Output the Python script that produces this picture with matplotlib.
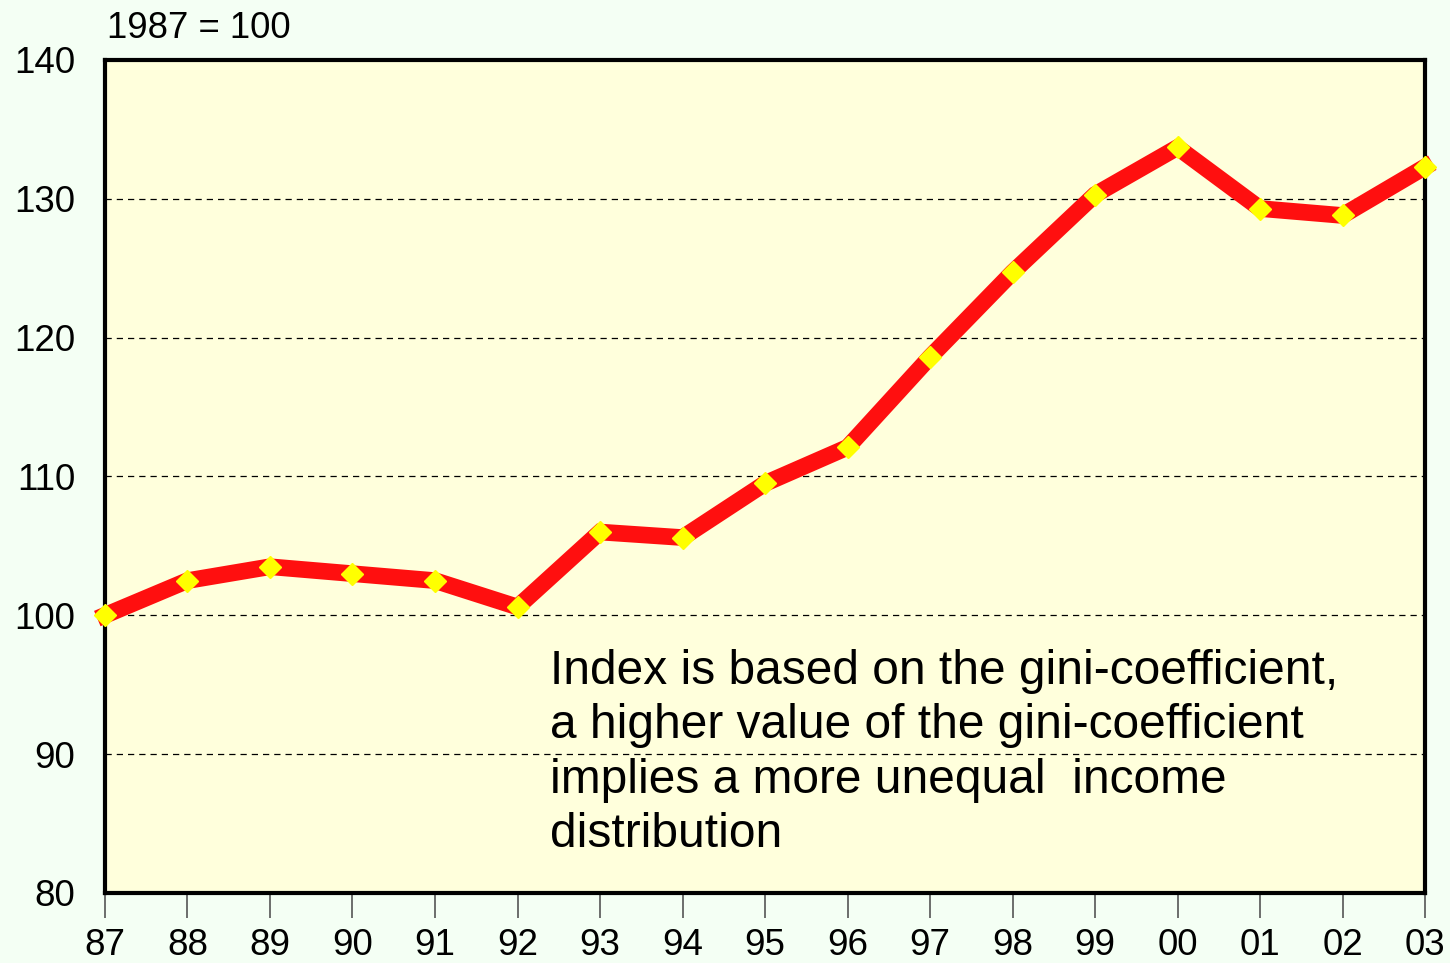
import numpy as np
import matplotlib.pyplot as plt

years = ["87", "88", "89", "90", "91", "92", "93", "94", "95", "96",
         "97", "98", "99", "00", "01", "02", "03"]
index_vals = [100.0, 102.5, 103.5, 103.0, 102.5, 100.6, 106.0, 105.6, 109.5,
              112.1, 118.6, 124.7, 130.3, 133.7, 129.3, 128.8, 132.3]
y_ticks = [80, 90, 100, 110, 120, 130, 140]

plt.rcParams['font.family'] = ['Liberation Sans', 'DejaVu Sans']

fig = plt.figure(figsize=(14.5, 9.63), dpi=100, facecolor='#F4FFF4')
ax = fig.add_axes([0.0724, 0.0727, 0.9104, 0.865])
ax.set_facecolor('#FFFFDC')

x = np.arange(len(years))
ax.plot(x, index_vals, color='#FF0F0F', lw=12, solid_joinstyle='miter',
        marker='D', ms=11.5, mfc='#FFFF00', mec='#FFFF00', clip_on=False, zorder=3)

ax.set_xlim(0, len(years) - 1)
ax.set_ylim(80, 140)
ax.set_yticks(y_ticks)
ax.set_xticks(x)
ax.set_xticklabels(years)
ax.tick_params(axis='y', length=0, pad=21.5, labelsize=26.5)
ax.tick_params(axis='x', length=18, width=1.2, color='#555555', pad=7, labelsize=26.5)

for v in y_ticks[1:-1]:
    ax.axhline(v, color='black', lw=0.9, ls=(0, (5, 4)), zorder=1)

for s in ax.spines.values():
    s.set_linewidth(3)
    s.set_color('black')

fig.text(0.074, 0.970, "1987 = 100", fontsize=26.3, ha='left', va='center')
ax.text(5.39, 97.55, "Index is based on the gini-coefficient,\n"
        "a higher value of the gini-coefficient\n"
        "implies a more unequal  income\n"
        "distribution", fontsize=34.5, ha='left', va='top', linespacing=1.26)

fig.savefig('out.png', dpi=100, facecolor=fig.get_facecolor())
